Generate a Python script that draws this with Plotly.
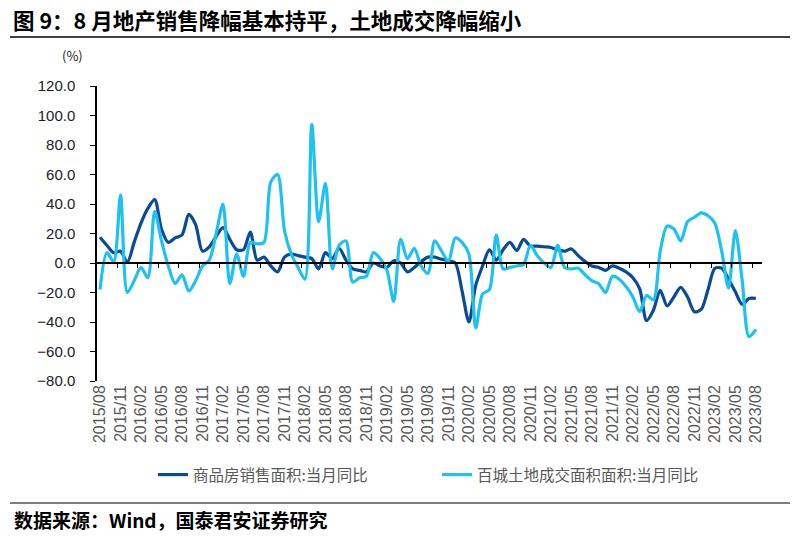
import plotly.graph_objects as go

# ---- data ----
months = []
y0, m0 = 2015, 8
for k in range(97):
    mm = m0 + k
    yy = y0 + (mm - 1) // 12
    mo = (mm - 1) % 12 + 1
    months.append(f"{yy}/{mo:02d}")

sales_yoy = [17.5, 12, 7, 8, 0.5, 14, 27, 37, 43, 23, 14, 17, 19, 33, 26, 8, 11,
             18, 24, 16, 9, 9, 21, 2, 4, -2, -6, 4, 6, 5, 4, 3, -4,
             7, 3, 10, 2, -4, -5, -6, 0, -2, -3, 1.5, 0, -6, -3, 1, 4,
             4, 2.5, 1.5, 0, -19, -40, -15, -2, 9, 2, 9, 14, 8.5, 16, 11.5, 11.5,
             11, 10.5, 9, 8, 9.5, 5, 1, -2, -3, -5, -2, -3.5, -6, -10, -17.5, -39,
             -32, -18.5, -29, -23, -16.5, -23, -33, -31.5, -18, -3.6, -3.5, -11, -19.5, -28, -24, -24]

land_yoy = [-18, 7, 1, 46, -20, -12, -3, -10, 35, 15, -2, -14, -8, -19, -12, -2, 2,
            20, 40, -14, 6, -9, 14, 13, 14, 55, 60, 22, 6, -3, -11, 94, 28,
            54, -4, 12, 15, -13, -10, -9, 7, 3, -5, -26, 16, 3, 10, -2, -7,
            15, 8, 1, 17, 14, 6, -44, -21, -18, 19, -4, -3, -2, -1, 12, 5,
            0, -3, 12, -3, -4, -3.5, -8, -12, -14, -20, -9, -11, -16, -23, -33, -22,
            -25, 8, 25, 23, 15, 28, 31, 34, 32, 27, 8, -17, 22, -12, -50, -45]

series_names = ["商品房销售面积:当月同比", "百城土地成交面积面积:当月同比"]
tick_idx = list(range(0, 97, 3))
tick_text = [months[i] for i in tick_idx]
y_ticks = [-80, -60, -40, -20, 0, 20, 40, 60, 80, 100, 120]

idx = list(range(len(months)))
DARK = "#0A4A9A"
LIGHT = "#1DC1F2"
CJK = "Noto Sans CJK SC"

OFF = 8
W, H = 800 - OFF, 536 - OFF

fig = go.Figure()
fig.add_trace(go.Scatter(x=idx, y=sales_yoy, mode="lines", name=series_names[0],
                         line=dict(color=DARK, width=3.2, shape="spline", smoothing=0.8)))
fig.add_trace(go.Scatter(x=idx, y=land_yoy, mode="lines", name=series_names[1],
                         line=dict(color=LIGHT, width=3.2, shape="spline", smoothing=0.8)))
# invisible trace to carry the zero-line axis with tick marks
fig.add_trace(go.Scatter(x=idx, y=[0] * len(idx), mode="lines", xaxis="x2",
                         line=dict(width=0), showlegend=False, hoverinfo="skip"))

xr = [-0.44, 96.9]
fig.update_layout(
    width=W, height=H,
    margin=dict(l=97 - OFF, r=38, t=86 - OFF, b=155, autoexpand=False),
    paper_bgcolor="white", plot_bgcolor="white",
    showlegend=True,
    legend=dict(orientation="h", xref="container", yref="container",
                x=(153 - OFF) / W, y=1 - (475 - OFF) / H, xanchor="left", yanchor="middle",
                font=dict(family=CJK, size=15.5, color="#595959"),
                entrywidth=239, entrywidthmode="pixels", itemwidth=30,
                bgcolor="rgba(0,0,0,0)"),
    xaxis=dict(range=xr, tickmode="array", tickvals=tick_idx, ticktext=tick_text,
               tickangle=-90, showgrid=False, zeroline=False, showline=False,
               automargin=False, ticks="",
               tickfont=dict(family="Liberation Sans", size=16, color="#595959")),
    xaxis2=dict(range=xr, overlaying="x", anchor="free", position=0.4, side="bottom",
                tickmode="array", tickvals=[i + 2.5 for i in range(0, 96, 3)],
                showticklabels=False, ticks="outside", ticklen=4, tickcolor="black",
                tickwidth=1.3, showline=True, linecolor="black", linewidth=1.5,
                showgrid=False, zeroline=False, automargin=False),
    yaxis=dict(range=[-80, 120], tickmode="array", tickvals=y_ticks,
               tickformat=".1f", showgrid=False, zeroline=False, showline=True,
               linecolor="black", linewidth=1.5, ticks="outside", ticklen=5,
               tickcolor="black", tickwidth=1.3, automargin=False,
               ticklabelstandoff=12,
               tickfont=dict(family="Liberation Sans", size=15, color="#222222")),
)

def px_x(p):
    return (p - 97) / 665.0

def px_y(p):
    return (381 - p) / 295.0

fig.add_annotation(text="<b>图 9：8 月地产销售降幅基本持平，土地成交降幅缩小</b>",
                   xref="paper", yref="paper", x=px_x(12), y=px_y(20),
                   xanchor="left", yanchor="middle", showarrow=False, borderpad=0,
                   font=dict(family=CJK, size=21.5, color="black"))
fig.add_annotation(text="<b>数据来源：Wind，国泰君安证券研究</b>",
                   xref="paper", yref="paper", x=px_x(12), y=px_y(520),
                   xanchor="left", yanchor="middle", showarrow=False,
                   font=dict(family=CJK, size=19, color="black"))
fig.add_annotation(text="(%)", xref="paper", yref="paper", x=px_x(72), y=px_y(55),
                   xanchor="center", yanchor="middle", showarrow=False,
                   font=dict(family=CJK, size=13, color="#222222"))
fig.add_shape(type="line", xref="paper", yref="paper", x0=px_x(10), x1=px_x(790),
              y0=px_y(37), y1=px_y(37), line=dict(color="black", width=1.5))
fig.add_shape(type="line", xref="paper", yref="paper", x0=px_x(10), x1=px_x(790),
              y0=px_y(503), y1=px_y(503), line=dict(color="black", width=1.2))

fig.write_html("out.html")
